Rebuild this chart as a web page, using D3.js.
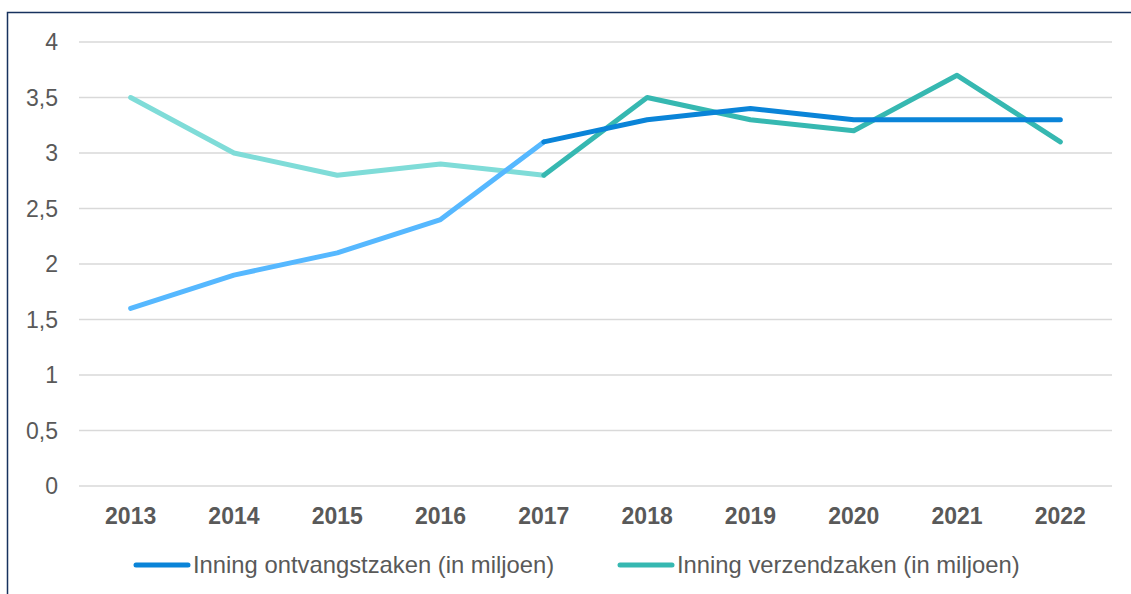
<!DOCTYPE html>
<html>
<head>
<meta charset="utf-8">
<script src="https://cdn.jsdelivr.net/npm/d3@7"></script>
<style>
  body { margin: 0; background: #fff; }
  svg { display: block; font-family: "Liberation Sans", Arial, sans-serif; }
</style>
</head>
<body>
<svg id="chart" width="1131" height="594"></svg>
<script>
    let years = ["2013", "2014", "2015", "2016", "2017", "2018", "2019", "2020", "2021", "2022"]
    let ontvangst = [1.6, 1.9, 2.1, 2.4, 3.1, 3.3, 3.4, 3.3, 3.3, 3.3]
    let verzend = [3.5, 3.0, 2.8, 2.9, 2.8, 3.5, 3.3, 3.2, 3.7, 3.1]
    let yTicks = [0, 0.5, 1, 1.5, 2, 2.5, 3, 3.5, 4]
    let seriesNames = ["Inning ontvangstzaken (in miljoen)", "Inning verzendzaken (in miljoen)"]

    // split year: before it the lighter colour is used
    let splitYear = "2017"

    let svg = d3.select("#chart")

    // frame
    svg.append("path")
        .attr("d", "M7.5,600 V12.5 H1140")
        .attr("fill", "none")
        .attr("stroke", "#17325e")
        .attr("stroke-width", 1.5)

    let xScale = d3.scaleBand()
        .domain(years)
        .range([79, 1112])
    let yScale = d3.scaleLinear()
        .domain([0, 4])
        .range([486, 42])

    // gridlines
    svg.append("g")
        .selectAll("line")
        .data(yTicks)
        .enter()
        .append("line")
        .attr("x1", 79)
        .attr("x2", 1112)
        .attr("y1", d => yScale(d))
        .attr("y2", d => yScale(d))
        .attr("stroke", "#d9d9d9")
        .attr("stroke-width", 1.5)

    let fmt = d => String(d).replace(".", ",")

    svg.append("g")
        .selectAll("text")
        .data(yTicks)
        .enter()
        .append("text")
        .attr("x", 58)
        .attr("y", d => yScale(d))
        .attr("dy", "0.35em")
        .attr("text-anchor", "end")
        .attr("font-size", 23)
        .attr("fill", "#595959")
        .text(fmt)

    svg.append("g")
        .selectAll("text")
        .data(years)
        .enter()
        .append("text")
        .attr("x", d => xScale(d) + xScale.bandwidth() / 2)
        .attr("y", 524)
        .attr("text-anchor", "middle")
        .attr("font-size", 23)
        .attr("font-weight", "bold")
        .attr("fill", "#595959")
        .text(d => d)

    let cx = d => xScale(d.year) + xScale.bandwidth() / 2

    function drawSeries(values, lightColor, darkColor) {
        let pts = years.map((y, i) => ({ year: y, value: values[i] }))
        let k = years.indexOf(splitYear)
        let line = d3.line()
            .x(cx)
            .y(d => yScale(d.value))
        svg.append("path")
            .datum(pts.slice(0, k + 1))
            .attr("d", line)
            .attr("fill", "none")
            .attr("stroke", lightColor)
            .attr("stroke-width", 5)
            .attr("stroke-linecap", "round")
            .attr("stroke-linejoin", "round")
        svg.append("path")
            .datum(pts.slice(k))
            .attr("d", line)
            .attr("fill", "none")
            .attr("stroke", darkColor)
            .attr("stroke-width", 5)
            .attr("stroke-linecap", "round")
            .attr("stroke-linejoin", "round")
    }

    drawSeries(verzend, "#7fdcd8", "#36b8b1")
    drawSeries(ontvangst, "#56b8ff", "#0a84d8")

    // legend
    let legend = [
        { name: seriesNames[0], color: "#0a84d8", x: 136 },
        { name: seriesNames[1], color: "#36b8b1", x: 620 }
    ]
    let lg = svg.append("g")
        .selectAll("g")
        .data(legend)
        .enter()
        .append("g")
    lg.append("line")
        .attr("x1", d => d.x)
        .attr("x2", d => d.x + 52)
        .attr("y1", 565)
        .attr("y2", 565)
        .attr("stroke", d => d.color)
        .attr("stroke-width", 5)
        .attr("stroke-linecap", "round")
    lg.append("text")
        .attr("x", d => d.x + 57)
        .attr("y", 565)
        .attr("dy", "0.35em")
        .attr("font-size", 23.8)
        .attr("fill", "#595959")
        .text(d => d.name)
</script>
</body>
</html>
